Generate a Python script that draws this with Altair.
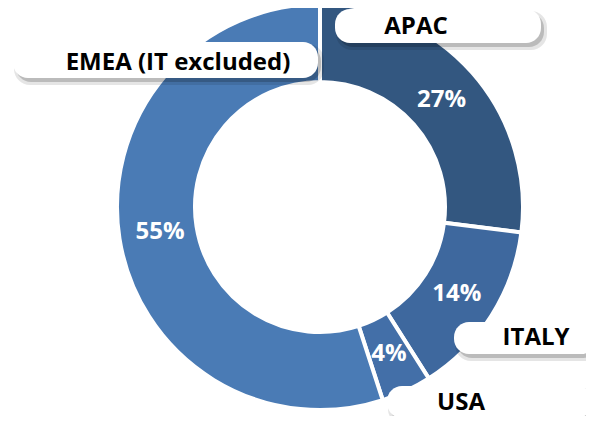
import altair as alt
import pandas as pd

# ---- data ----
regions = ["APAC", "ITALY", "USA", "EMEA (IT excluded)"]
shares = [27, 14, 4, 55]
pct_labels = ["27%", "14%", "4%", "55%"]
slice_order = [0, 1, 2, 3]
colors = ["#335780", "#3E689E", "#436FA8", "#4A7BB5"]

# ---- callout label layout (pixels within the plot area) ----
callout_text = ["APAC", "ITALY", "USA", "EMEA (IT excluded)"]
box_x0 = [327, 446, 379, 5]
box_x1 = [533, 588, 584, 310]
box_y0 = [1, 314, 378, 34]
box_y1 = [35, 346, 410, 70]
text_x = [408, 528, 453, 170]
text_y = [19, 330, 395, 55]

W, H = 578, 408
CX, CY = 312, 199
R_OUT, R_IN = 203, 125

df = pd.DataFrame({"region": regions, "share": shares, "pct": pct_labels, "ord": slice_order})
boxes = pd.DataFrame({
    "label": callout_text,
    "x0": box_x0, "x1": box_x1, "y0": box_y0, "y1": box_y1,
    "tx": text_x, "ty": text_y,
})
boxes["sx0"] = boxes["x0"] + 3
boxes["sx1"] = boxes["x1"] + 3
boxes["sy0"] = boxes["y0"] + 4
boxes["sy1"] = boxes["y1"] + 4
boxes["ssx0"] = boxes["x0"] + 1
boxes["ssx1"] = boxes["x1"] + 6
boxes["ssy0"] = boxes["y0"] + 2
boxes["ssy1"] = boxes["y1"] + 7

theta = alt.Theta("share:Q", stack=True)
order = alt.Order("ord:Q")

arcs = alt.Chart(df).mark_arc(
    outerRadius=R_OUT, innerRadius=R_IN, stroke="white", strokeWidth=4
).encode(
    theta=theta,
    order=order,
    color=alt.Color("region:N", scale=alt.Scale(domain=regions, range=colors), legend=None),
    x=alt.value(CX),
    y=alt.value(CY),
)

pcts = alt.Chart(df).mark_text(
    radius=(R_OUT + R_IN) / 2 - 2, font="Open Sans", fontWeight="bold", fontSize=24, color="white"
).encode(
    theta=theta,
    order=order,
    text="pct:N",
    x=alt.value(CX),
    y=alt.value(CY),
)

def px(field):
    return alt.X(field, type="quantitative", scale=None, axis=None)

def py(field):
    return alt.Y(field, type="quantitative", scale=None, axis=None)

shadow_soft = alt.Chart(boxes).mark_rect(cornerRadius=16, color="#000000", opacity=0.10).encode(
    x=px("ssx0"), x2="ssx1", y=py("ssy0"), y2="ssy1"
)
shadow = alt.Chart(boxes).mark_rect(cornerRadius=15, color="#000000", opacity=0.18).encode(
    x=px("sx0"), x2="sx1", y=py("sy0"), y2="sy1"
)
box = alt.Chart(boxes).mark_rect(cornerRadius=15, color="white").encode(
    x=px("x0"), x2="x1", y=py("y0"), y2="y1"
)
box_text = alt.Chart(boxes).mark_text(
    font="Open Sans", fontWeight="bold", fontSize=24, color="black", baseline="middle", align="center"
).encode(
    x=px("tx"), y=py("ty"), text="label:N"
)

chart = alt.layer(arcs, pcts, shadow_soft, shadow, box, box_text).properties(
    width=W, height=H, autosize="none", padding=0, background="white"
).configure_view(stroke=None)

chart.save("out.html", embed_options={"renderer": "svg", "actions": False})
